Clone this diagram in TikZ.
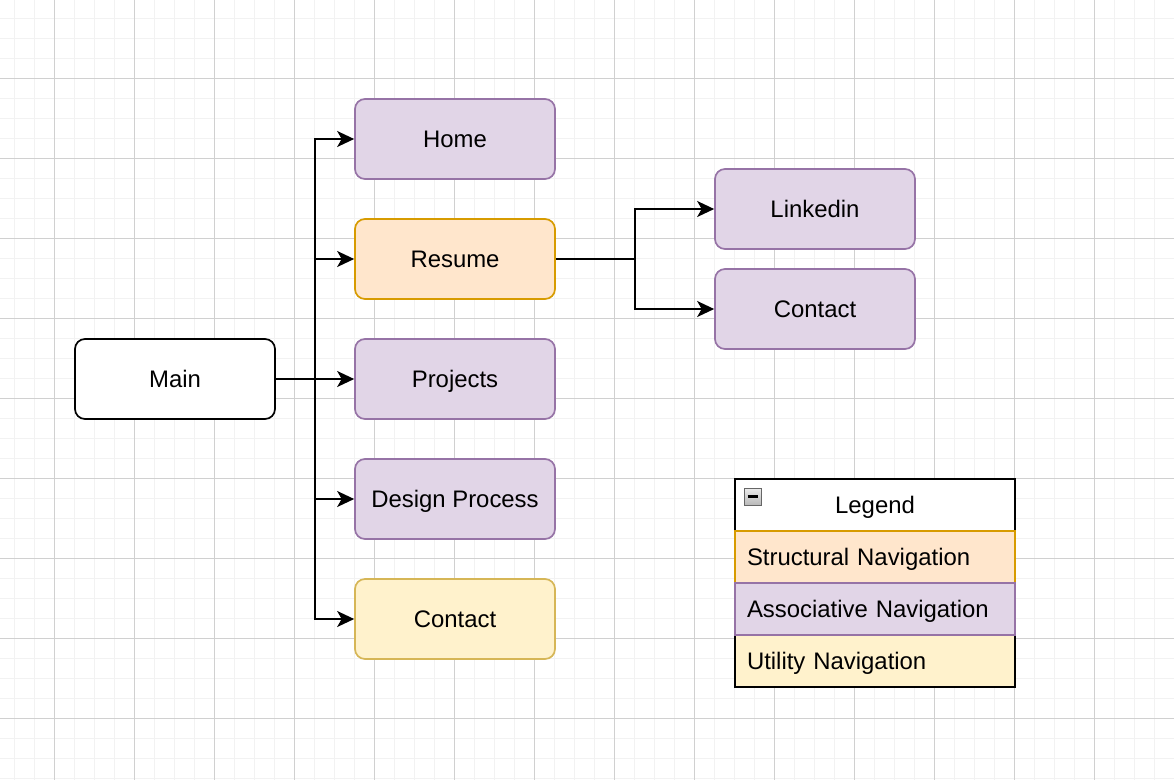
\documentclass[tikz,border=0pt]{standalone}
\usepackage{fontspec}
\setmainfont{Liberation Sans}
\usetikzlibrary{arrows.meta}

\definecolor{purplefill}{HTML}{E1D5E7}
\definecolor{purpleline}{HTML}{9673A6}
\definecolor{orangefill}{HTML}{FFE6CC}
\definecolor{orangeline}{HTML}{D79B00}
\definecolor{yellowfill}{HTML}{FFF2CC}
\definecolor{yellowline}{HTML}{D6B656}
\definecolor{minorgrid}{HTML}{F2F2F2}
\definecolor{majorgrid}{HTML}{D0D0D0}

\tikzset{
  page/.style={rounded corners=10pt, minimum width=200pt, minimum height=80pt,
    draw, line width=1.7pt, inner sep=0pt, text height=17pt, text depth=0pt,
    font=\fontsize{23.9pt}{28pt}\selectfont},
  assoc/.style={page, draw=purpleline, fill=purplefill},
  struct/.style={page, draw=orangeline, fill=orangefill},
  util/.style={page, draw=yellowline, fill=yellowfill},
  link/.style={line width=1.7pt},
  arrow/.style={link, -{Stealth[length=17pt, width=16pt, inset=4.5pt]}},
  legendrow/.style={draw, line width=1.3pt, minimum width=280pt, minimum height=52pt,
    inner xsep=12pt, inner ysep=0pt, text width=256pt, align=left,
    text height=17pt, text depth=0pt,
    font=\fontsize{23.9pt}{28pt}\selectfont}
}

\begin{document}
\begin{tikzpicture}[x=1pt, y=-1pt]
  \useasboundingbox (0,0) rectangle (1174,780);

  % Grid
  \foreach \x in {0, ..., 58} {
      \draw[minorgrid, line width=1pt] (14.5+\x*20, 0) -- ++(0, 780);
  }
  \foreach \y in {0, ..., 38} {
      \draw[minorgrid, line width=1pt] (0, 18.5+\y*20) -- ++(1174, 0);
  }
  \foreach \x in {0, ..., 14} {
      \draw[majorgrid, line width=1pt] (54.5+\x*80, 0) -- ++(0, 780);
  }
  \foreach \y in {0, ..., 8} {
      \draw[majorgrid, line width=1pt] (0, 78.5+\y*80) -- ++(1174, 0);
  }

  % Pages
  \node[page, fill=white] (main) at (175, 379) {Main};
  \node[assoc] (home) at (455, 139) {Home};
  \node[struct] (resume) at (455, 259) {Resume};
  \node[assoc] (projects) at (455, 379) {Projects};
  \node[assoc] (design) at (455, 499) {Design Process};
  \node[util] (contact) at (455, 619) {Contact};
  \node[assoc] (linkedin) at (815, 209) {Linkedin};
  \node[assoc] (resumecontact) at (815, 309) {Contact};

  % Links from Main
  \coordinate (mainsplit) at (315, 379);
  \draw[arrow] (main) -- (projects);
  \draw[arrow] (mainsplit) |- (home);
  \draw[arrow] (mainsplit) |- (resume);
  \draw[arrow] (mainsplit) |- (design);
  \draw[arrow] (mainsplit) |- (contact);

  % Links from Resume
  \coordinate (resumesplit) at (635, 259);
  \draw[link] (resume) -- (resumesplit);
  \draw[arrow] (resumesplit) |- (linkedin);
  \draw[arrow] (resumesplit) |- (resumecontact);

  % Legend
  \node[legendrow, fill=white, align=center] (legendhead) at (875, 505) {Legend};
  \node[legendrow, fill=yellowfill] (utilrow) at (875, 661) {Utility Navigation};
  \node[legendrow, draw=orangeline, fill=orangefill] (structrow) at (875, 557) {Structural Navigation};
  \node[legendrow, draw=purpleline, fill=purplefill] (assocrow) at (875, 609) {Associative Navigation};
  % collapse toggle
  \node[draw=gray!80!black, line width=1pt, top color=gray!15, bottom color=gray!55,
    minimum size=17pt, inner sep=0pt] (toggle) at (752.5, 496.5) {};
  \draw[line width=2.2pt] ([xshift=-5pt]toggle.center) -- ([xshift=5pt]toggle.center);

\end{tikzpicture}
\end{document}
